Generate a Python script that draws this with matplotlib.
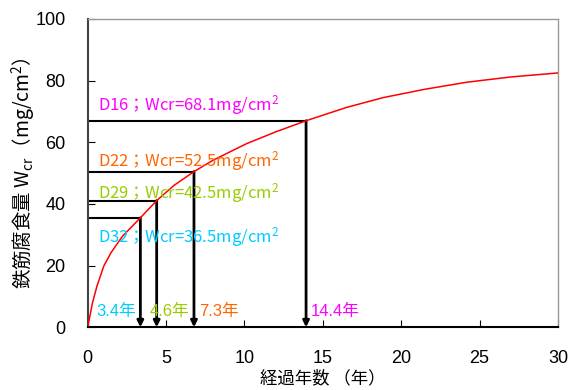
import matplotlib
matplotlib.use("Agg")
import matplotlib.pyplot as plt

plt.rcParams['font.family'] = ['Liberation Sans', 'Noto Sans CJK JP', 'DejaVu Sans']
plt.rcParams['mathtext.fontset'] = 'custom'
plt.rcParams['mathtext.rm'] = 'Noto Sans CJK JP'
plt.rcParams['mathtext.it'] = 'Noto Sans CJK JP'
plt.rcParams['mathtext.default'] = 'rm'

# corrosion curve
years = [0.0, 0.3, 0.6, 1.04, 1.5, 2.23, 3.36, 4.4, 5.5, 6.78, 8.0, 10.15, 12.0, 13.93, 16.5, 18.85, 21.5, 24.2, 27.0, 30.0]
wcorr = [0.0, 7.8, 13.5, 20.0, 24.3, 29.6, 35.5, 41.1, 46.0, 50.5, 54.2, 59.6, 63.4, 67.0, 71.3, 74.5, 77.2, 79.5, 81.2, 82.5]

# critical values per bar diameter (as written in the labels)
bar_names = ["D16", "D22", "D29", "D32"]
crit_w = [68.1, 52.5, 42.5, 36.5]
crit_t = [14.4, 7.3, 4.6, 3.4]
# where the guide lines are actually drawn in the picture
guide_w = [67.0, 50.5, 41.1, 35.5]
guide_t = [13.93, 6.78, 4.4, 3.36]
bar_colors = ["#FF00FF", "#FF6600", "#99CC00", "#00CCFF"]
label_y = [72.1, 53.9, 43.5, 29.3]
year_x = [14.2, 7.1, 3.97, 0.53]

cjk = "Noto Sans CJK JP"

fig = plt.figure(figsize=(5.72, 3.9), dpi=100)
ax = fig.add_axes([0.1533, 0.1608, 0.8222, 0.7905])

ax.plot(years, wcorr, color="red", lw=1.1, zorder=3)

for gw, gt in zip(guide_w, guide_t):
    ax.plot([0, gt], [gw, gw], color="black", lw=1.5, zorder=2)
    ax.annotate("", xy=(gt, 0), xytext=(gt, gw),
                arrowprops=dict(arrowstyle="-|>", color="black", lw=2.0,
                                mutation_scale=9, shrinkA=0, shrinkB=0), zorder=2)

for name, w, c, ly in zip(bar_names, crit_w, bar_colors, label_y):
    ax.text(0.66, ly, name + "；Wcr=%.1fmg/cm$^{2}$" % w, color=c, fontsize=12,
            va="center", ha="left", zorder=4, family=cjk)

# year labels
for t, x, c in zip(crit_t, year_x, bar_colors):
    ax.text(x, 5, "%.1f年" % t, color=c, fontsize=12, va="center", ha="left", zorder=4)

ax.set_xlim(0, 30)
ax.set_ylim(0, 100)
ax.set_xticks(range(0, 31, 5))
ax.set_yticks(range(0, 101, 20))
ax.tick_params(direction="in", length=5, labelsize=13, pad=16, colors="black")
for s in ["top", "right"]:
    ax.spines[s].set_color("#999999")
    ax.spines[s].set_linewidth(1.0)
ax.spines["left"].set_color("#444444")
ax.spines["left"].set_linewidth(1.5)
ax.spines["bottom"].set_color("black")
ax.spines["bottom"].set_linewidth(1.5)

ax.set_xlabel("経過年数 （年）", fontsize=12.5, labelpad=2, family=cjk)
ax.set_ylabel("鉄筋腐食量 W$_{cr}$（mg/cm$^{2}$）", fontsize=14, family=cjk)
ax.yaxis.set_label_coords(-0.105, 0.5)

# title clipped at the top edge of the image
fig.text(0.52, 1 - 4 / 390, "of Crack Outcast", fontsize=14, ha="center", va="bottom",
         family="Liberation Serif", fontweight="bold")

fig.savefig("out.png", dpi=100)
